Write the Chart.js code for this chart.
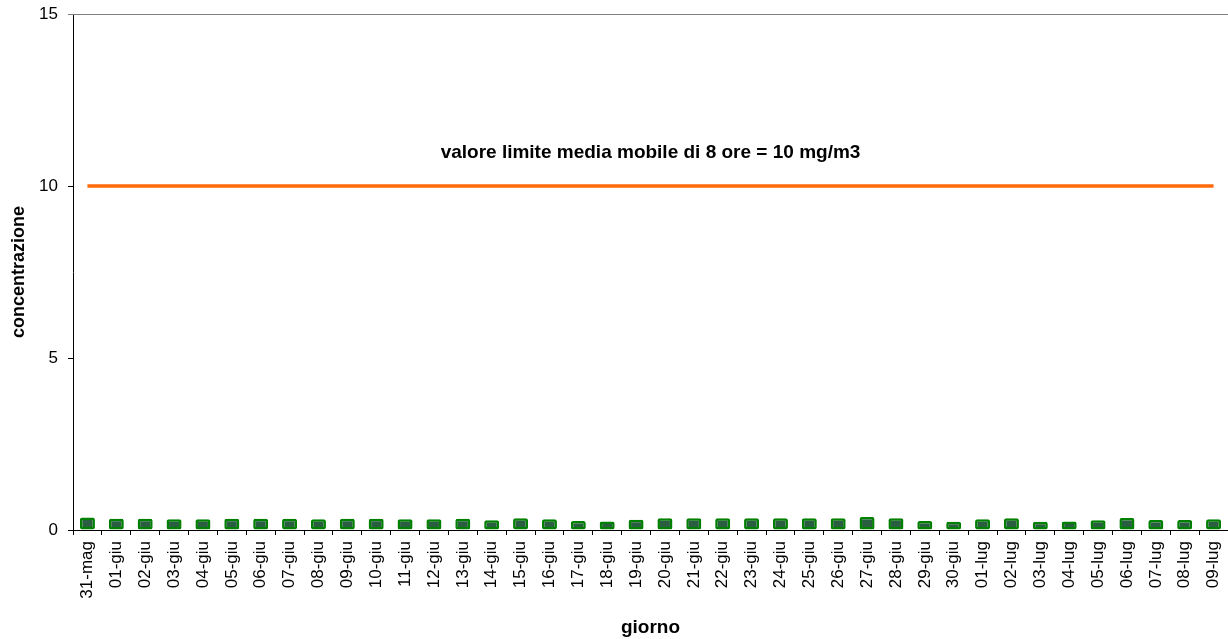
<!DOCTYPE html>
<html>
<head>
<meta charset="utf-8">
<script src="https://cdn.jsdelivr.net/npm/chart.js@4"></script>
<style>
  html, body { margin: 0; padding: 0; background: #fff; }
  #wrap { width: 1228px; height: 639px; }
</style>
</head>
<body>
<div id="wrap"><canvas id="myChart" width="1228" height="639"></canvas></div>
<script>
const giorni = [
    '31-mag', '01-giu', '02-giu', '03-giu', '04-giu', '05-giu', '06-giu', '07-giu',
    '08-giu', '09-giu', '10-giu', '11-giu', '12-giu', '13-giu', '14-giu', '15-giu',
    '16-giu', '17-giu', '18-giu', '19-giu', '20-giu', '21-giu', '22-giu', '23-giu',
    '24-giu', '25-giu', '26-giu', '27-giu', '28-giu', '29-giu', '30-giu', '01-lug',
    '02-lug', '03-lug', '04-lug', '05-lug', '06-lug', '07-lug', '08-lug', '09-lug'
];

// media mobile 8 ore, massimo giornaliero (mg/m3)
const concentrazione = [
    0.36, 0.33, 0.33, 0.31, 0.31, 0.33, 0.33, 0.33,
    0.31, 0.33, 0.33, 0.31, 0.31, 0.33, 0.28, 0.34,
    0.31, 0.26, 0.25, 0.30, 0.34, 0.34, 0.34, 0.34,
    0.34, 0.34, 0.34, 0.38, 0.34, 0.26, 0.24, 0.31,
    0.34, 0.24, 0.25, 0.28, 0.35, 0.29, 0.29, 0.31
];

const valoreLimite = 10;
const testoLimite = 'valore limite media mobile di 8 ore = 10 mg/m3';
const posTestoLimite = 10.97;
const yTicks = [0, 5, 10, 15];

const font = 'Arial, "Liberation Sans", sans-serif';

const extraPlugin = {
    id: 'extra',
    afterDraw(chart) {
        const ctx = chart.ctx;
        const area = chart.chartArea;
        ctx.save();
        // top border line
        ctx.strokeStyle = '#808080';
        ctx.lineWidth = 1;
        ctx.beginPath();
        ctx.moveTo(area.left - 5, area.top + 0.5);
        ctx.lineTo(area.right, area.top + 0.5);
        ctx.stroke();
        // limit label
        ctx.fillStyle = '#000';
        ctx.font = 'bold 19px ' + font;
        ctx.textAlign = 'center';
        ctx.textBaseline = 'middle';
        const y = chart.scales.y.getPixelForValue(posTestoLimite);
        ctx.fillText(testoLimite, (area.left + area.right) / 2, y);
        ctx.restore();
    }
};

var ctx = document.getElementById('myChart').getContext('2d');

var myChart = new Chart(ctx, {
    type: 'bar',
    data: {
        labels: giorni,
        datasets: [
            {
                type: 'line',
                label: 'valore limite',
                data: giorni.map(() => valoreLimite),
                borderColor: '#ff6a0a',
                borderWidth: 3.5,
                pointRadius: 0,
                fill: false,
                order: 0,
            },
            {
                label: 'concentrazione',
                data: concentrazione,
                backgroundColor: '#2a5e40',
                borderColor: '#008000',
                borderWidth: 2.5,
                borderRadius: 2,
                borderSkipped: false,
                barPercentage: 0.52,
                categoryPercentage: 1,
                order: 1,
            },
        ]
    },
    options: {
        responsive: false,
        animation: false,
        layout: { padding: { top: 14, right: 0, left: 0, bottom: 0 } },
        plugins: {
            legend: { display: false },
            tooltip: { enabled: false },
        },
        scales: {
            x: {
                grid: {
                    drawOnChartArea: false,
                    drawTicks: true,
                    tickLength: 5,
                    color: '#000',
                },
                border: { color: '#000', width: 1 },
                ticks: {
                    color: '#000',
                    font: { family: font, size: 17 },
                    maxRotation: 90,
                    minRotation: 90,
                    padding: 6,
                    autoSkip: false,
                },
                title: {
                    display: true,
                    text: 'giorno',
                    color: '#000',
                    font: { family: font, size: 19, weight: 'bold' },
                    padding: { top: 0, bottom: 0 },
                },
                afterFit(scale) {
                    scale.height = 109;
                    scale.paddingRight = 0;
                    scale.paddingLeft = 0;
                },
            },
            y: {
                min: 0,
                max: 15,
                afterBuildTicks(scale) { scale.ticks = yTicks.map(v => ({ value: v })); },
                grid: {
                    drawOnChartArea: false,
                    drawTicks: true,
                    tickLength: 5,
                    color: '#000',
                },
                border: { color: '#000', width: 1 },
                ticks: {
                    color: '#000',
                    font: { family: font, size: 17 },
                    padding: 10,
                },
                title: {
                    display: true,
                    text: 'concentrazione',
                    color: '#000',
                    font: { family: font, size: 18, weight: 'bold' },
                    padding: { top: 8, bottom: 0 },
                },
                afterFit(scale) {
                    scale.width = 73;
                    scale.paddingTop = 0;
                    scale.paddingBottom = 0;
                },
            }
        }
    },
    plugins: [extraPlugin]
});
</script>
</body>
</html>
